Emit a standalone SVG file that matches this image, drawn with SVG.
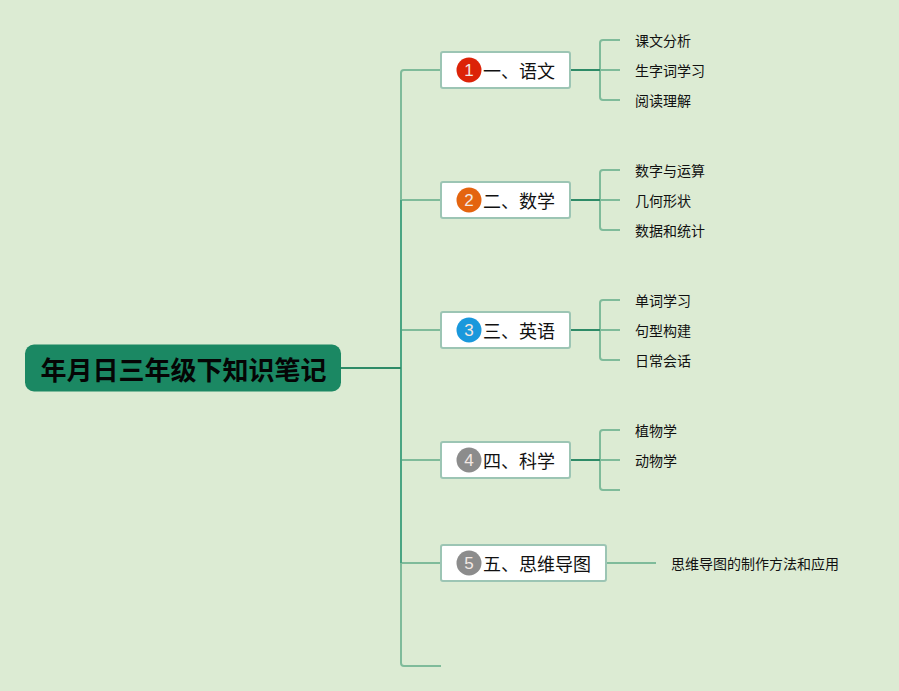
<svg xmlns="http://www.w3.org/2000/svg" width="899" height="691" viewBox="0 0 899 691">
<style>
text{font-family:"Noto Sans CJK SC","Liberation Sans",sans-serif;fill:#111}
.l{fill:none;stroke:#7fbb9a;stroke-width:2}
.d{fill:none;stroke:#2e8b67;stroke-width:2}
.sp{fill:none;stroke:#4aa583;stroke-width:2}
.n{fill:#fff;stroke:#9cc5b4;stroke-width:2}
.t{font-size:18px}
.s{font-size:14px}
.b{font-family:"Liberation Sans",sans-serif;font-size:17px;fill:#f3e9e4;text-anchor:middle}
</style>
<rect width="899" height="691" fill="#dcebd3"/>
<g id="connectors">
<path class="l" d="M441 70H404Q401 70 401 73V200M401 563V663Q401 666 404 666H441M401 200H441M401 330H441M401 460H441M401 563H441"/>
<path class="sp" d="M401 200V563"/>
<path class="d" d="M341 368H401"/>
<path class="l" d="M620 40H603Q600 40 600 43V97Q600 100 603 100H620M600 70H620"/>
<path class="l" d="M620 170H603Q600 170 600 173V227Q600 230 603 230H620M600 200H620"/>
<path class="l" d="M620 300H603Q600 300 600 303V357Q600 360 603 360H620M600 330H620"/>
<path class="l" d="M620 430H603Q600 430 600 433V487Q600 490 603 490H620M600 460H620"/>
<path class="d" d="M570 70H600M570 200H600M570 330H600M570 460H600"/>
<path class="l" d="M606 563H656"/>
</g>
<g id="root"><rect x="25" y="344.500" width="316" height="47" rx="9" fill="#1b8863"/><text x="40.500" y="380" font-size="26px" font-weight="700" style="fill:#050505">年月日三年级下知识笔记</text></g>
<g id="n1"><rect class="n" x="441" y="52" width="129" height="36" rx="2"/><circle cx="469" cy="70" r="12.500" fill="#dc2308"/><text class="b" x="469" y="76">1</text><text class="t" x="483" y="78">一、语文</text></g>
<g id="n2"><rect class="n" x="441" y="182" width="129" height="36" rx="2"/><circle cx="469" cy="200" r="12.500" fill="#e4640f"/><text class="b" x="469" y="206">2</text><text class="t" x="483" y="208">二、数学</text></g>
<g id="n3"><rect class="n" x="441" y="312" width="129" height="36" rx="2"/><circle cx="469" cy="330" r="12.500" fill="#1a98dc"/><text class="b" x="469" y="336">3</text><text class="t" x="483" y="338">三、英语</text></g>
<g id="n4"><rect class="n" x="441" y="442" width="129" height="36" rx="2"/><circle cx="469" cy="460" r="12.500" fill="#8c8c8c"/><text class="b" x="469" y="466">4</text><text class="t" x="483" y="468">四、科学</text></g>
<g id="n5"><rect class="n" x="441" y="545" width="165" height="36" rx="2"/><circle cx="469" cy="563" r="12.500" fill="#8c8c8c"/><text class="b" x="469" y="569">5</text><text class="t" x="483" y="571">五、思维导图</text></g>
<g id="leaf1"><text class="s" x="635" y="46">课文分析</text></g>
<g id="leaf2"><text class="s" x="635" y="76">生字词学习</text></g>
<g id="leaf3"><text class="s" x="635" y="106">阅读理解</text></g>
<g id="leaf4"><text class="s" x="635" y="176">数字与运算</text></g>
<g id="leaf5"><text class="s" x="635" y="206">几何形状</text></g>
<g id="leaf6"><text class="s" x="635" y="236">数据和统计</text></g>
<g id="leaf7"><text class="s" x="635" y="306">单词学习</text></g>
<g id="leaf8"><text class="s" x="635" y="336">句型构建</text></g>
<g id="leaf9"><text class="s" x="635" y="366">日常会话</text></g>
<g id="leaf10"><text class="s" x="635" y="436">植物学</text></g>
<g id="leaf11"><text class="s" x="635" y="466">动物学</text></g>
<g id="leaf12"><text class="s" x="671" y="569">思维导图的制作方法和应用</text></g>
</svg>
